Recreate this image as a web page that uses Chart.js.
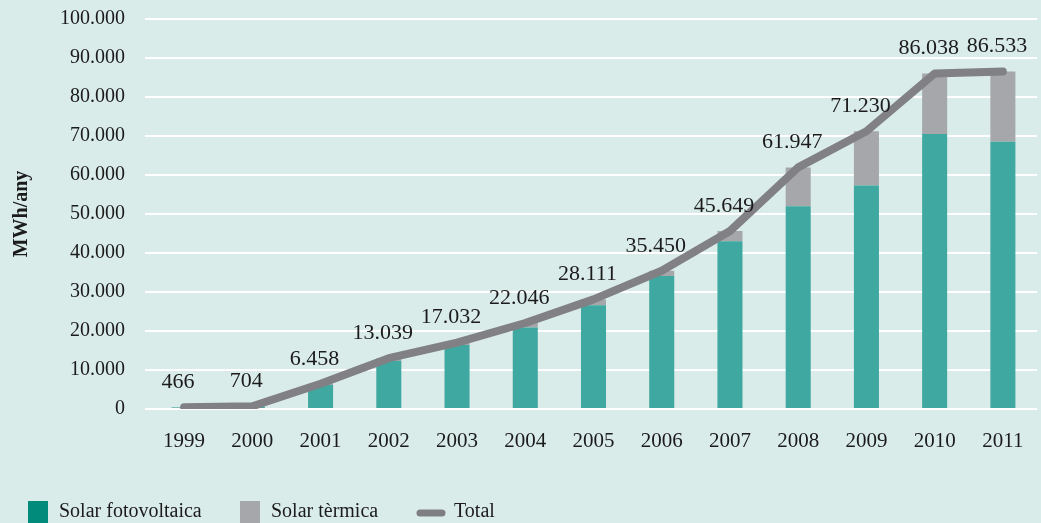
<!DOCTYPE html>
<html>
<head>
<meta charset="utf-8">
<script src="https://cdn.jsdelivr.net/npm/chart.js@4/dist/chart.umd.min.js"></script>
<style>
  html, body { margin: 0; padding: 0; background: #daecea; }
  #wrap { position: relative; width: 1041px; height: 523px; overflow: hidden; }
</style>
</head>
<body>
<div id="wrap"><canvas id="c" width="1041" height="523"></canvas></div>
<script>
const years = ['1999','2000','2001','2002','2003','2004','2005','2006','2007','2008','2009','2010','2011'];
const fotovoltaica = [400, 600, 6150, 12300, 16400, 20900, 26600, 34100, 43000, 52000, 57300, 70500, 68500];
const termica = [66, 104, 308, 739, 632, 1146, 1511, 1350, 2649, 9947, 13930, 15538, 18033];
const total = [466, 704, 6458, 13039, 17032, 22046, 28111, 35450, 45649, 61947, 71230, 86038, 86533];
const yTicks = [0, 10000, 20000, 30000, 40000, 50000, 60000, 70000, 80000, 90000, 100000];

const SERIF = '"Liberation Serif", "DejaVu Serif", serif';
const fmt = v => v.toLocaleString('de-DE');

const bgPlugin = {
  id: 'bg',
  beforeDraw(chart) {
    const ctx = chart.ctx;
    ctx.save();
    ctx.fillStyle = '#daecea';
    ctx.fillRect(0, 0, chart.width, chart.height);
    ctx.restore();
  }
};

const labelPlugin = {
  id: 'lineLabels',
  afterDatasetsDraw(chart) {
    const meta = chart.getDatasetMeta(2);
    const ctx = chart.ctx;
    ctx.save();
    ctx.font = '22px ' + SERIF;
    ctx.fillStyle = '#1b1b1b';
    ctx.textAlign = 'center';
    ctx.textBaseline = 'middle';
    meta.data.forEach((pt, i) => {
      const txt = fmt(total[i]);
      const w = ctx.measureText(txt).width;
      let x = pt.x - 6;
      if (x + w / 2 > chart.width - 1) x = chart.width - 1 - w / 2;
      ctx.fillText(txt, x, pt.y - 25);
    });
    ctx.restore();
  }
};

const legendPlugin = {
  id: 'customLegend',
  afterDraw(chart) {
    const ctx = chart.ctx;
    ctx.save();
    ctx.font = '20px ' + SERIF;
    ctx.textBaseline = 'middle';
    const y = 512;
    ctx.fillStyle = '#008b7b';
    ctx.fillRect(28, 501, 20, 24);
    ctx.fillStyle = '#a6a7aa';
    ctx.fillRect(240, 501, 20, 24);
    ctx.strokeStyle = '#7f7f83';
    ctx.lineWidth = 7;
    ctx.lineCap = 'round';
    ctx.beginPath();
    ctx.moveTo(420, 513);
    ctx.lineTo(442, 513);
    ctx.stroke();
    ctx.fillStyle = '#1b1b1b';
    ctx.fillText('Solar fotovoltaica', 59, y);
    ctx.fillText('Solar tèrmica', 271, y);
    ctx.fillText('Total', 454, y);
    ctx.restore();
  }
};

new Chart(document.getElementById('c'), {
  type: 'bar',
  data: {
    labels: years,
    datasets: [
      {
        label: 'Solar fotovoltaica',
        data: fotovoltaica,
        backgroundColor: '#3fa8a0',
        stack: 'bars',
        order: 2,
        barPercentage: 0.367,
        categoryPercentage: 1.0
      },
      {
        label: 'Solar tèrmica',
        data: termica,
        backgroundColor: '#a6a7aa',
        stack: 'bars',
        order: 2,
        barPercentage: 0.367,
        categoryPercentage: 1.0
      },
      {
        type: 'line',
        label: 'Total',
        data: total,
        borderColor: '#818185',
        borderWidth: 8,
        borderCapStyle: 'round',
        borderJoinStyle: 'round',
        pointRadius: 0,
        tension: 0,
        stack: 'line',
        order: 1
      }
    ]
  },
  options: {
    responsive: false,
    animation: false,
    devicePixelRatio: 1,
    layout: { padding: { top: 19, right: 4, left: 10, bottom: 0 } },
    plugins: {
      legend: { display: false },
      tooltip: { enabled: false }
    },
    scales: {
      x: {
        stacked: true,
        grid: { display: false, drawTicks: false },
        border: { display: false },
        ticks: {
          color: '#1b1b1b',
          font: { family: SERIF, size: 21 },
          padding: 20,
          maxRotation: 0
        },
        afterFit(scale) { scale.height = 114; scale.paddingLeft = 0; scale.paddingRight = 0; }
      },
      y: {
        stacked: true,
        min: 0,
        max: 100000,
        afterBuildTicks(scale) { scale.ticks = yTicks.map(v => ({ value: v })); },
        grid: { color: '#ffffff', lineWidth: 2, drawTicks: true, tickLength: 5, tickColor: '#ffffff' },
        border: { display: false },
        ticks: {
          color: '#1b1b1b',
          font: { family: SERIF, size: 20 },
          padding: 20,
          callback: v => fmt(v)
        },
        title: {
          display: true,
          text: 'MWh/any',
          color: '#1b1b1b',
          font: { family: SERIF, size: 20, weight: 'bold' },
          padding: { top: 0, bottom: 0 }
        },
        afterFit(scale) { scale.width = 140; scale.paddingTop = 0; scale.paddingBottom = 0; }
      }
    }
  },
  plugins: [bgPlugin, labelPlugin, legendPlugin]
});
</script>
</body>
</html>
